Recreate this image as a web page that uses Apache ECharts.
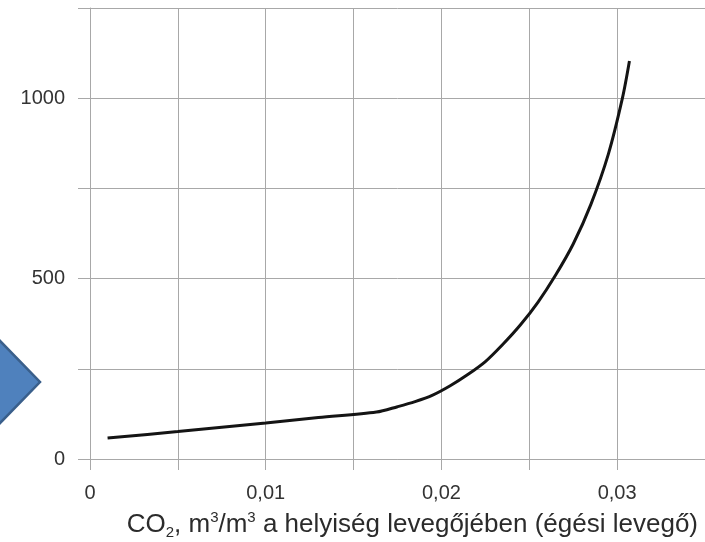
<!DOCTYPE html>
<html>
<head>
<meta charset="utf-8">
<script src="https://cdn.jsdelivr.net/npm/echarts@6/dist/echarts.min.js"></script>
<style>html,body{margin:0;padding:0;background:#fff;}#c{width:705px;height:542px;}</style>
</head>
<body>
<div id="c"></div>
<script>
// CO2 fraction (m3/m3) and curve values
const co2 = [0.001, 0.005, 0.010, 0.013, 0.0163, 0.0175, 0.0185, 0.0195, 0.0205, 0.0215, 0.0225, 0.0235, 0.0245, 0.0255, 0.0265, 0.0275, 0.0285, 0.0295, 0.0303, 0.0307];
const values = [58, 76, 100, 115, 130, 145, 159, 177, 203, 234, 270, 318, 372, 435, 510, 596, 705, 845, 1000, 1103];
const xTickValues = [0, 0.01, 0.02, 0.03];
const xTickLabels = ['0', '0,01', '0,02', '0,03'];
const yTickValues = [0, 500, 1000];
const yTickLabels = ['0', '500', '1000'];

const gridColor = '#a8a8a8';
function lookup(vals, labels, v) {
  for (let i = 0; i < vals.length; i++) {
    if (Math.abs(vals[i] - v) < 1e-9) return labels[i];
  }
  return '';
}
const ff = 'Liberation Sans, Arial';
const chart = echarts.init(document.getElementById('c'), null, {renderer: 'canvas'});
chart.setOption({
  animation: false,
  backgroundColor: '#ffffff',
  grid: {left: 90, right: -6, top: 8, bottom: 83, containLabel: false},
  title: {
    right: 2, top: 505,
    text: '{n|CO}{sub|2}{n|, m}{sup|3}{n|/m}{sup|3}{n| a helyiség levegőjében (égési levegő)}',
    textStyle: {
      fontWeight: 'normal',
      rich: {
        n: {fontFamily: ff, fontWeight: 'normal', fontSize: 26, color: '#2b2b2b', lineHeight: 30, verticalAlign: 'middle'},
        sub: {fontFamily: ff, fontWeight: 'normal', fontSize: 15, color: '#2b2b2b', lineHeight: 15, verticalAlign: 'bottom'},
        sup: {fontFamily: ff, fontWeight: 'normal', fontSize: 15, color: '#2b2b2b', lineHeight: 15, verticalAlign: 'top'}
      }
    }
  },
  xAxis: {
    type: 'value', min: 0, max: 0.035, interval: 0.005,
    axisLine: {show: true, lineStyle: {color: gridColor, width: 1}},
    axisTick: {show: true, length: 11, lineStyle: {color: gridColor, width: 1}},
    splitLine: {show: true, lineStyle: {color: gridColor, width: 1}},
    axisLabel: {
      margin: 24, fontFamily: ff, fontSize: 20, color: '#333',
      showMaxLabel: false,
      formatter: v => lookup(xTickValues, xTickLabels, v)
    }
  },
  yAxis: {
    type: 'value', min: 0, max: 1250, interval: 250,
    axisLine: {show: true, lineStyle: {color: gridColor, width: 1}},
    axisTick: {show: true, length: 12, lineStyle: {color: gridColor, width: 1}},
    splitLine: {show: true, lineStyle: {color: gridColor, width: 1}},
    axisLabel: {
      margin: 25, fontFamily: ff, fontSize: 20, color: '#333',
      formatter: v => lookup(yTickValues, yTickLabels, v)
    }
  },
  series: [{
    type: 'line',
    data: co2.map((x, i) => [x, values[i]]),
    smooth: 0.3,
    showSymbol: false,
    lineStyle: {color: '#141414', width: 3},
    z: 5
  }],
  graphic: [{
    type: 'polygon',
    shape: {points: [[-30, 310], [40, 382], [-30, 454]]},
    style: {fill: '#4f81bd', stroke: '#3a5f8b', lineWidth: 2.5},
    z: 10
  }]
});
</script>
</body>
</html>
